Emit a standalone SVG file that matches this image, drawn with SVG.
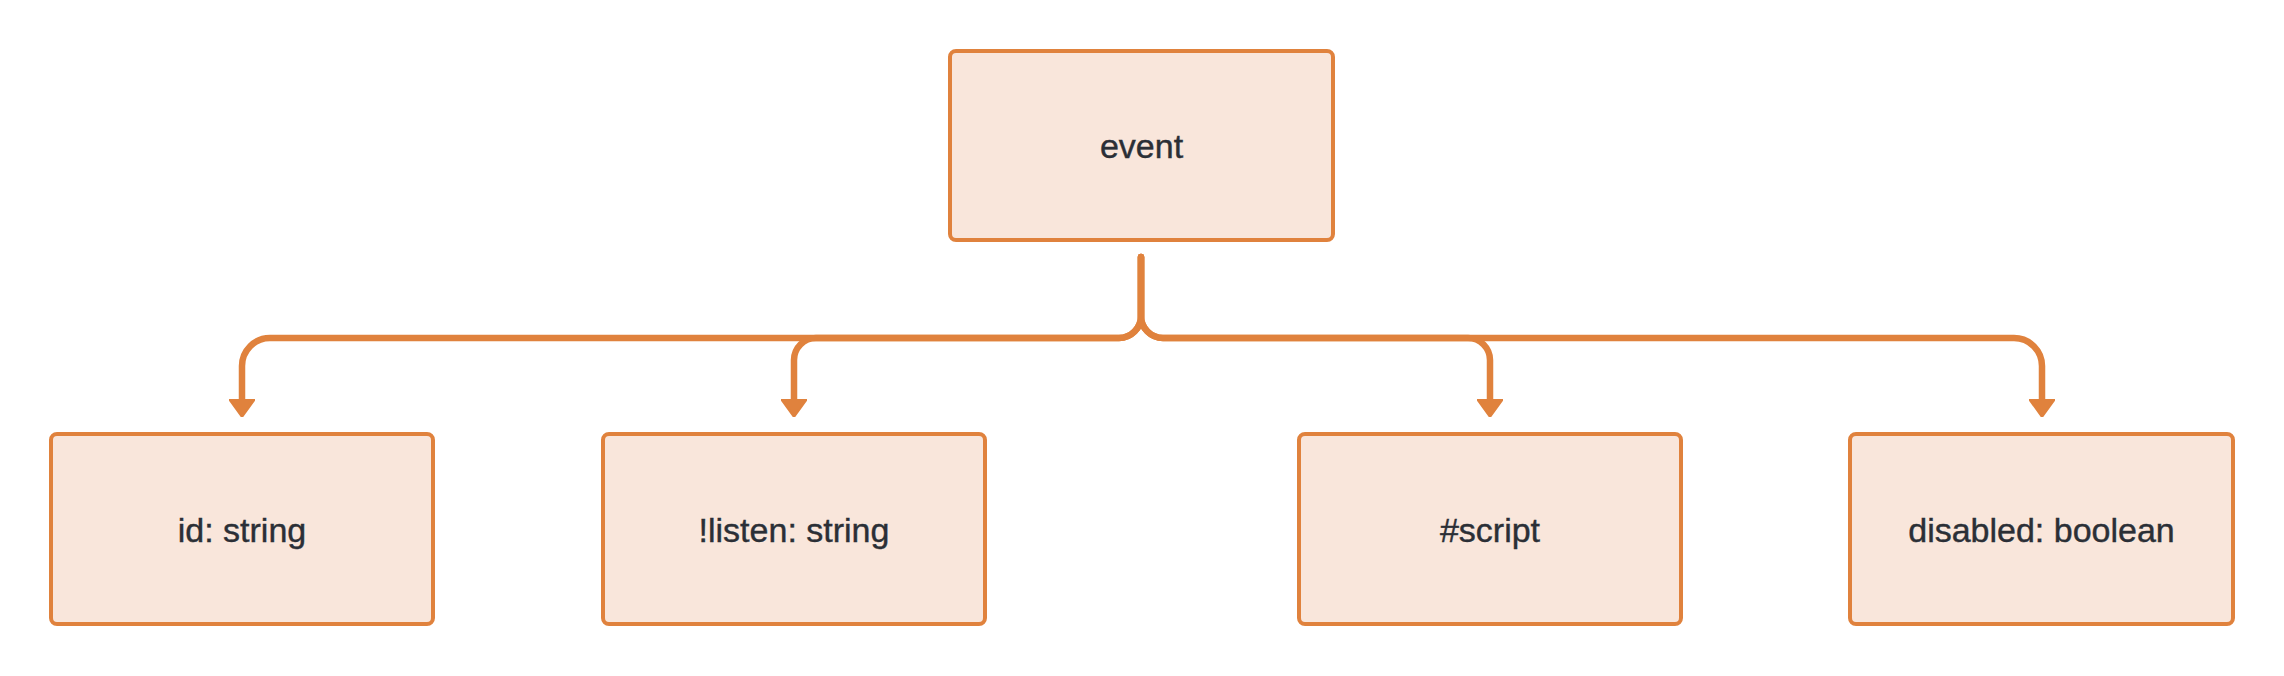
<svg xmlns="http://www.w3.org/2000/svg" width="2284" height="676" viewBox="0 0 2284 676">
  <defs>
    <style>
      .node rect { fill: #F9E6DB; stroke: #E0823D; stroke-width: 4; }
      .node text { font-family: "Liberation Sans", Arial, sans-serif; font-size: 34px; fill: #2B2F36; text-anchor: middle; stroke: #2B2F36; stroke-width: 0.4; }
      .edge { fill: none; stroke: #E0823D; stroke-width: 6.5; stroke-linecap: round; stroke-linejoin: round; }
    </style>
    <marker id="arrow" viewBox="0 0 18 26" refX="1" refY="13" markerWidth="18" markerHeight="26" markerUnits="userSpaceOnUse" orient="auto">
      <path d="M0 0 L18 13 L0 26 Z" fill="#E0823D" stroke="#E0823D" stroke-width="2" stroke-linejoin="round"/>
    </marker>
  </defs>
  <rect width="2284" height="676" fill="#FFFFFF"/>

  <g id="connectors">
    <path class="edge" marker-end="url(#arrow)" d="M1141 257 L1141 316 A22 22 0 0 1 1119 338 L270 338 A28 28 0 0 0 242 366 L242 400"/>
    <path class="edge" marker-end="url(#arrow)" d="M1141 257 L1141 316 A22 22 0 0 1 1119 338 L816 338 A22 22 0 0 0 794 360 L794 400"/>
    <path class="edge" marker-end="url(#arrow)" d="M1141 257 L1141 316 A22 22 0 0 0 1163 338 L1468 338 A22 22 0 0 1 1490 360 L1490 400"/>
    <path class="edge" marker-end="url(#arrow)" d="M1141 257 L1141 316 A22 22 0 0 0 1163 338 L2014 338 A28 28 0 0 1 2042 366 L2042 400"/>
  </g>

  <g id="node-event" class="node">
    <rect x="950" y="51" width="383" height="189" rx="6" ry="6"/>
    <text x="1141.5" y="158">event</text>
  </g>
  <g id="node-id" class="node">
    <rect x="51" y="434" width="382" height="190" rx="6" ry="6"/>
    <text x="242" y="542">id: string</text>
  </g>
  <g id="node-listen" class="node">
    <rect x="603" y="434" width="382" height="190" rx="6" ry="6"/>
    <text x="794" y="542">!listen: string</text>
  </g>
  <g id="node-script" class="node">
    <rect x="1299" y="434" width="382" height="190" rx="6" ry="6"/>
    <text x="1490" y="542">#script</text>
  </g>
  <g id="node-disabled" class="node">
    <rect x="1850" y="434" width="383" height="190" rx="6" ry="6"/>
    <text x="2041.5" y="542">disabled: boolean</text>
  </g>
</svg>
